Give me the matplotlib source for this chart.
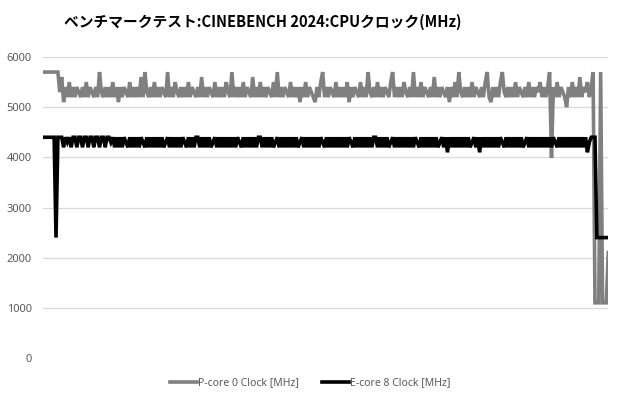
import matplotlib
matplotlib.use("Agg")
import matplotlib.pyplot as plt

title = "ベンチマークテスト:CINEBENCH 2024:CPUクロック(MHz)"
series_names = ["P-core 0 Clock [MHz]", "E-core 8 Clock [MHz]"]
y_ticks = [0, 1000, 2000, 3000, 4000, 5000, 6000]

p_core = [
    5700,5700,5700,5700,5700,5700,5700,5700,5700,5300,5600,5100,5400,5200,5500,5200,5400,5200,5400,5300,
    5200,5400,5200,5500,5200,5400,5300,5200,5400,5200,5700,5300,5200,5400,5200,5400,5200,5500,5200,5400,
    5100,5400,5200,5400,5300,5200,5500,5200,5400,5200,5400,5200,5600,5200,5700,5300,5200,5400,5200,5500,
    5200,5400,5200,5400,5300,5200,5700,5200,5400,5200,5500,5300,5200,5400,5200,5400,5200,5500,5200,5400,
    5300,5200,5400,5200,5600,5200,5400,5200,5400,5300,5200,5500,5200,5400,5200,5400,5200,5500,5300,5200,
    5700,5200,5400,5200,5400,5200,5500,5200,5400,5300,5200,5600,5200,5400,5200,5500,5200,5400,5200,5400,
    5300,5200,5500,5200,5700,5200,5400,5200,5400,5300,5200,5500,5200,5400,5200,5400,5100,5400,5200,5500,
    5200,5400,5300,5200,5100,5400,5200,5500,5700,5200,5400,5200,5400,5300,5200,5500,5200,5400,5200,5400,
    5200,5500,5100,5400,5200,5400,5300,5200,5500,5200,5400,5200,5700,5300,5200,5400,5200,5500,5200,5400,
    5200,5400,5300,5200,5500,5700,5200,5400,5200,5400,5200,5500,5300,5200,5400,5200,5700,5200,5400,5200,
    5500,5200,5400,5300,5200,5400,5200,5600,5200,5400,5200,5400,5300,5200,5400,5100,5400,5200,5500,5200,
    5700,5300,5200,5400,5200,5400,5200,5500,5200,5400,5300,5200,5400,5200,5500,5700,5200,5100,5400,5200,
    5400,5200,5500,5700,5300,5200,5400,5200,5400,5200,5500,5200,5400,5300,5200,5400,5200,5500,5200,5400,
    5200,5400,5300,5500,5200,5400,5200,5400,5700,3990,5400,5200,5500,5200,5400,5300,5200,5000,5400,5200,
    5500,5200,5400,5200,5600,5200,5400,5300,5500,5200,5400,5700,1100,1100,1100,5700,1100,1100,1100,2100,
]

e_core = [
    4400,4400,4400,4400,4400,4400,4400,2400,4400,4400,4400,4200,4400,4300,4400,4200,4400,4400,4200,4400,
    4400,4200,4400,4400,4200,4400,4400,4200,4400,4400,4200,4400,4400,4200,4400,4400,4300,4400,4200,4400,
    4200,4400,4200,4400,4300,4200,4400,4200,4400,4200,4400,4200,4400,4300,4200,4400,4200,4400,4200,4400,
    4200,4400,4200,4400,4200,4300,4400,4200,4400,4200,4400,4200,4400,4200,4400,4300,4200,4400,4200,4400,
    4200,4400,4400,4200,4400,4200,4400,4200,4400,4200,4300,4400,4200,4400,4200,4400,4200,4400,4200,4400,
    4200,4400,4200,4400,4300,4200,4400,4200,4400,4200,4400,4200,4400,4200,4400,4400,4200,4400,4200,4400,
    4200,4400,4200,4300,4400,4200,4400,4200,4400,4200,4400,4200,4400,4200,4400,4200,4300,4400,4200,4400,
    4200,4400,4200,4400,4200,4400,4200,4400,4300,4200,4400,4200,4400,4200,4400,4200,4400,4200,4400,4200,
    4400,4200,4400,4300,4200,4400,4200,4400,4200,4400,4200,4400,4200,4400,4200,4400,4400,4200,4400,4200,
    4400,4200,4400,4200,4300,4400,4200,4400,4200,4400,4200,4400,4200,4400,4200,4400,4200,4400,4300,4200,
    4400,4200,4400,4200,4400,4200,4400,4200,4400,4200,4300,4400,4200,4400,4100,4400,4200,4400,4200,4400,
    4200,4400,4200,4400,4200,4400,4200,4300,4400,4200,4400,4100,4400,4200,4400,4200,4400,4200,4400,4200,
    4400,4200,4400,4300,4200,4400,4200,4400,4200,4400,4200,4400,4200,4400,4200,4300,4400,4200,4400,4200,
    4400,4200,4400,4200,4400,4200,4400,4200,4400,4200,4400,4300,4200,4400,4200,4400,4200,4400,4200,4400,
    4200,4400,4200,4400,4200,4400,4200,4400,4100,4300,4400,4400,4400,2400,2400,2400,2400,2400,2400,2400,
]

plt.rcParams['font.family'] = ['Noto Sans', 'DejaVu Sans']

fig = plt.figure(figsize=(6.2, 4.0), dpi=100)
ax = fig.add_axes([0.069, 0.105, 0.912, 0.7525])

x = list(range(len(p_core)))
ax.plot(x, p_core, color="#808080", lw=2.6, label=series_names[0], solid_joinstyle="miter")
ax.plot(x, e_core, color="#000000", lw=2.6, label=series_names[1], solid_joinstyle="miter")

ax.set_xlim(0, len(p_core) - 1)
ax.set_ylim(0, 6000)
ax.set_yticks(y_ticks)
ax.set_yticklabels([str(v) for v in y_ticks], color="#595959", fontsize=8)
ax.set_xticks([])
ax.tick_params(axis="y", length=0, pad=8)
ax.grid(axis="y", color="#d9d9d9", lw=0.9)
ax.set_axisbelow(True)
for s in ax.spines.values():
    s.set_visible(False)

fig.text(0.423, 0.945, title, ha="center", va="center", fontsize=10.6, fontweight="bold",
         family=['Noto Sans CJK JP', 'DejaVu Sans'])

leg = fig.legend(loc="center", bbox_to_anchor=(0.5, 0.043), ncol=2, frameon=False,
                 fontsize=7.5, handlelength=2.6, columnspacing=2.2, handletextpad=0.1)
for t in leg.get_texts():
    t.set_color("#595959")

fig.savefig("out.png", dpi=100)
